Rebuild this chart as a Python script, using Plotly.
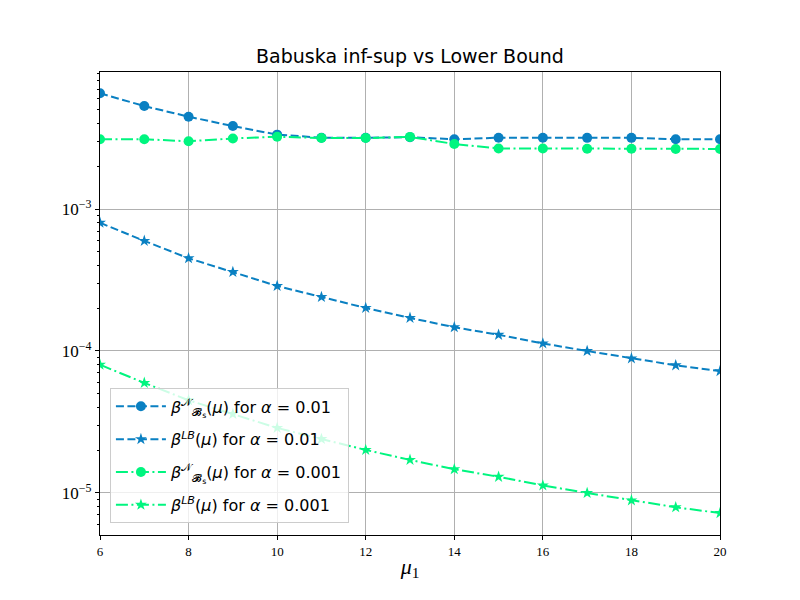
import plotly.graph_objects as go

# values
mu = [6, 7, 8, 9, 10, 11, 12, 13, 14, 15, 16, 17, 18, 19, 20]

beta_n_a001 = [6.53e-3, 5.31e-3, 4.47e-3, 3.84e-3, 3.34e-3, 3.18e-3, 3.18e-3, 3.20e-3,
               3.10e-3, 3.18e-3, 3.18e-3, 3.17e-3, 3.17e-3, 3.10e-3, 3.10e-3]
beta_lb_a001 = [8.0e-4, 5.96e-4, 4.5e-4, 3.6e-4, 2.87e-4, 2.4e-4, 2.01e-4, 1.71e-4,
                1.47e-4, 1.30e-4, 1.13e-4, 1.0e-4, 8.87e-5, 7.93e-5, 7.22e-5]
beta_n_a0001 = [3.10e-3, 3.10e-3, 3.00e-3, 3.14e-3, 3.23e-3, 3.16e-3, 3.16e-3, 3.22e-3,
                2.87e-3, 2.67e-3, 2.67e-3, 2.66e-3, 2.66e-3, 2.65e-3, 2.65e-3]
beta_lb_a0001 = [8.0e-5, 5.96e-5, 4.5e-5, 3.6e-5, 2.87e-5, 2.4e-5, 2.01e-5, 1.71e-5,
                 1.47e-5, 1.30e-5, 1.13e-5, 1.0e-5, 8.87e-6, 7.93e-6, 7.22e-6]

names = [
    "<i>β</i><sup>𝒩</sup><sub>𝓑<sub>s</sub></sub>(<i>μ</i>) for <i>α</i> = 0.01",
    "<i>β</i><sup><i>LB</i></sup>(<i>μ</i>) for <i>α</i> = 0.01",
    "<i>β</i><sup>𝒩</sup><sub>𝓑<sub>s</sub></sub>(<i>μ</i>) for <i>α</i> = 0.001",
    "<i>β</i><sup><i>LB</i></sup>(<i>μ</i>) for <i>α</i> = 0.001",
]

major_vals = [1e-5, 1e-4, 1e-3]
major_text = ["10<sup>−5</sup>", "10<sup>−4</sup>", "10<sup>−3</sup>"]
minor_vals = [m * 10.0 ** e for e in (-6, -5, -4, -3) for m in range(2, 10)]

BLUE = "#0a80c2"
GREEN = "#00f57f"
DASH = "8px,3.5px"
DASHDOT = "12px,3.5px,2px,3.5px"

fig = go.Figure()

fig.add_trace(go.Scatter(x=mu, y=beta_n_a001, name=names[0], mode="lines+markers",
                         legendgroup="a",
                         line=dict(color=BLUE, width=2, dash=DASH),
                         marker=dict(symbol="circle", size=10, color=BLUE)))
fig.add_trace(go.Scatter(x=mu, y=beta_lb_a001, name=names[1], mode="lines+markers",
                         legendgroup="b",
                         line=dict(color=BLUE, width=2, dash=DASH),
                         marker=dict(symbol="star", size=9, color=BLUE)))
fig.add_trace(go.Scatter(x=mu, y=beta_n_a0001, name=names[2], mode="lines+markers",
                         legendgroup="c",
                         line=dict(color=GREEN, width=2, dash=DASHDOT),
                         marker=dict(symbol="circle", size=10, color=GREEN)))
fig.add_trace(go.Scatter(x=mu, y=beta_lb_a0001, name=names[3], mode="lines+markers",
                         legendgroup="d",
                         line=dict(color=GREEN, width=2, dash=DASHDOT),
                         marker=dict(symbol="star", size=9, color=GREEN)))

# the page draws the figure 8px in from the corner, margins allow for it
fig.update_layout(
    width=800, height=600,
    margin=dict(l=92, r=88, t=64, b=73),
    paper_bgcolor="white", plot_bgcolor="white",
    title=dict(text="Babuska inf-sup vs Lower Bound", x=402 / 800, xanchor="center",
               y=1 - 48 / 600, yanchor="middle", yref="container",
               font=dict(family="DejaVu Sans", size=19, color="black")),
    legend=dict(x=0.016, y=0.025, xanchor="left", yanchor="bottom",
                bgcolor="rgba(255,255,255,0.8)", bordercolor="#cccccc", borderwidth=1,
                font=dict(family="DejaVu Sans", size=16, color="black"),
                tracegroupgap=9, itemwidth=50),
    showlegend=True,
)

fig.update_xaxes(
    range=[6, 20], tickvals=[6, 8, 10, 12, 14, 16, 18, 20],
    ticks="outside", ticklen=4, tickcolor="black",
    showline=True, linecolor="black", linewidth=1.2, mirror=True,
    showgrid=True, gridcolor="#b0b0b0", gridwidth=0.8, zeroline=False,
    tickfont=dict(family="Liberation Serif", size=13, color="black"),
    title=dict(text="<i>μ</i><sub>1</sub>", standoff=0,
               font=dict(family="Liberation Serif", size=22, color="black")),
)

fig.update_yaxes(
    type="log", range=[-5.296, -2.035],
    tickvals=major_vals, ticktext=major_text,
    ticks="outside", ticklen=4, tickcolor="black",
    showline=True, linecolor="black", linewidth=1.2, mirror=True,
    showgrid=True, gridcolor="#b0b0b0", gridwidth=0.8, zeroline=False,
    tickfont=dict(family="Liberation Serif", size=17, color="black"),
    minor=dict(tickvals=minor_vals, ticks="outside", ticklen=2, tickcolor="black",
               showgrid=False),
)

fig.write_html("out.html")
